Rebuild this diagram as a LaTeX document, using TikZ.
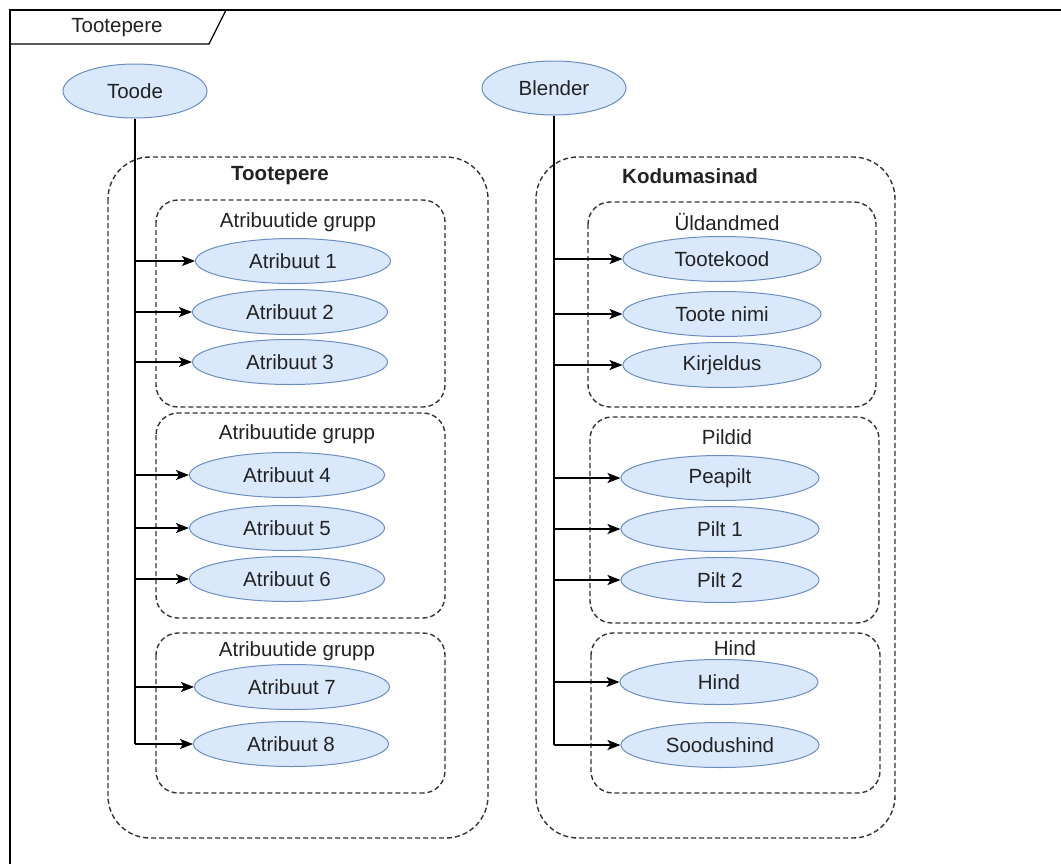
\documentclass[tikz,border=0pt]{standalone}
\usepackage{fontspec}
\setmainfont{Liberation Sans}
\usetikzlibrary{arrows.meta,shapes.geometric}
\definecolor{ellfill}{HTML}{DAE8FC}
\definecolor{elldraw}{HTML}{6C8EBF}
\definecolor{txt}{HTML}{222222}
\definecolor{dashc}{HTML}{333333}
\tikzset{
  every node/.style={font=\fontsize{20.5}{24}\selectfont, text=txt},
  ell/.style={ellipse, draw=elldraw, fill=ellfill, line width=1pt, inner sep=0pt},
  attr/.style={ell, minimum width=195pt, minimum height=45pt},
  item/.style={ell, minimum width=198pt, minimum height=45pt},
  root/.style={ell, minimum width=144pt, minimum height=54pt},
  group/.style={draw=dashc, dashed, dash pattern=on 5pt off 3pt, line width=1.4pt, rounded corners=22pt},
  outer/.style={draw=dashc, dashed, dash pattern=on 5pt off 3pt, line width=1.4pt, rounded corners=42pt},
  link/.style={draw=black, line width=1.5pt, -{Stealth[length=13pt,width=10pt,inset=3pt]}},
  trunk/.style={draw=black, line width=1.5pt},
}
\begin{document}
\begin{tikzpicture}[x=1pt, y=-1pt]
\useasboundingbox (0,0) rectangle (1061,863);
\clip (0,0) rectangle (1061,863);
\fill[white] (0,0) rectangle (1061,863);

% frame with title tab
\draw[line width=1.5pt] (10,880) -- (10,10) -- (1075,10);
\draw[line width=1.2pt] (10,44) -- (209,44) -- (226,10);
\node (frametitle) at (117,28) {Tootepere};

% left column: product family
\draw[outer] (108,157) rectangle (488,838);
\node[font=\fontsize{20.5}{24}\selectfont\bfseries] (famL) at (280,176) {Tootepere};
\draw[group] (156,200) rectangle (445,407);
\node (g1) at (298,222) {Atribuutide grupp};
\draw[group] (156,413) rectangle (445,618);
\node (g2) at (297,434) {Atribuutide grupp};
\draw[group] (156,633) rectangle (445,793);
\node (g3) at (297,651) {Atribuutide grupp};

\node[root] (toode) at (135,91) {Toode};
\node[attr] (a1) at (293,261) {Atribuut 1};
\node[attr] (a2) at (290,312) {Atribuut 2};
\node[attr] (a3) at (290,362) {Atribuut 3};
\node[attr] (a4) at (287,475) {Atribuut 4};
\node[attr] (a5) at (287,528) {Atribuut 5};
\node[attr] (a6) at (287,579) {Atribuut 6};
\node[attr] (a7) at (292,687) {Atribuut 7};
\node[attr] (a8) at (291,744) {Atribuut 8};

\draw[trunk] (toode.south) -- (toode.south |- a8.west);
\foreach \n in {a1,a2,a3,a4,a5,a6,a7,a8}
  \draw[link] (toode.south |- \n.west) -- (\n.west);

% right column: home appliances
\draw[outer] (536,157) rectangle (895,838);
\node[font=\fontsize{20.5}{24}\selectfont\bfseries] (famR) at (690,176) {Kodumasinad};
\draw[group] (588,202) rectangle (876,407);
\node (r1) at (727,222) {Üldandmed};
\draw[group] (590,417) rectangle (879,623);
\node (r2) at (727,437) {Pildid};
\draw[group] (591,633) rectangle (880,793);
\node (r3) at (735,648) {Hind};

\node[root] (blender) at (554,88) {Blender};
\node[item] (b1) at (722,259) {Tootekood};
\node[item] (b2) at (722,314) {Toote nimi};
\node[item] (b3) at (722,365) {Kirjeldus};
\node[item] (b4) at (720,478) {Peapilt};
\node[item] (b5) at (720,529) {Pilt 1};
\node[item] (b6) at (720,580) {Pilt 2};
\node[item] (b7) at (719,682) {Hind};
\node[item] (b8) at (720,745) {Soodushind};

\draw[trunk] (blender.south) -- (blender.south |- b8.west);
\foreach \n in {b1,b2,b3,b4,b5,b6,b7,b8}
  \draw[link] (blender.south |- \n.west) -- (\n.west);
\end{tikzpicture}
\end{document}
